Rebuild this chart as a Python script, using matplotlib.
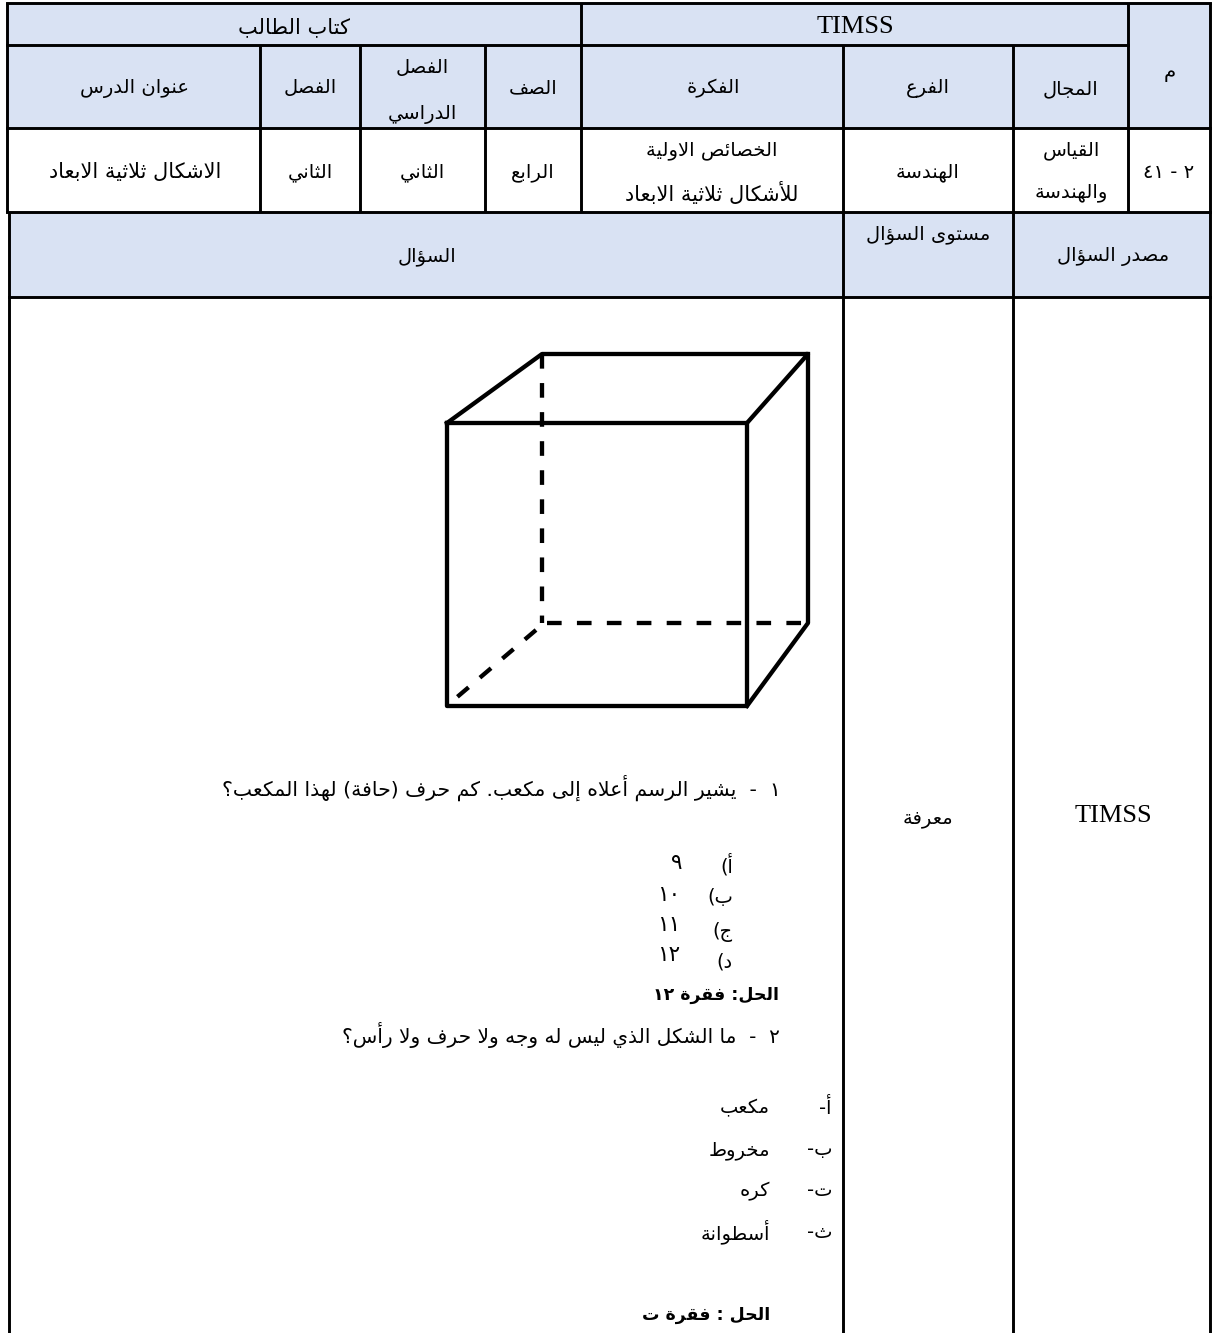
import matplotlib
matplotlib.use('Agg')
import matplotlib.pyplot as plt
from matplotlib.patches import Rectangle

# letters in the order of the presentation forms block, with the number of forms each has
AR_LETTERS = 'ءآأؤإئابةتثجحخدذرزسشصضطظعغفقكلمنهوىي'
AR_COUNTS = [1, 2, 2, 2, 2, 4, 2, 4, 2, 4, 4, 4, 4, 4, 2, 2, 2, 2, 4, 4, 4, 4, 4, 4, 4, 4, 4, 4, 4, 4, 4, 4, 4, 2, 2, 4]
LAM_ALEF = {'آ': 0xFEF5, 'أ': 0xFEF7, 'إ': 0xFEF9, 'ا': 0xFEFB}
MIRROR = {'(': ')', ')': '('}

AR_FORMS = {}
code = 0xFE80
for ch, n in zip(AR_LETTERS, AR_COUNTS):
    AR_FORMS[ch] = (code, n)
    code += n


def ar(s):
    """matplotlib has no shaping: pick presentation forms and lay out right to left"""
    # lam-alef ligatures are handled as a single letter
    items = []
    i = 0
    while i < len(s):
        if s[i] == 'ل' and i + 1 < len(s) and s[i + 1] in LAM_ALEF:
            items.append(('la', s[i + 1]))
            i += 2
        else:
            items.append(('c', s[i]))
            i += 1

    def joins_next(it):
        if it[0] == 'la':
            return False
        return it[1] in AR_FORMS and AR_FORMS[it[1]][1] == 4

    def joins_prev(it):
        if it[0] == 'la':
            return True
        return it[1] in AR_FORMS and AR_FORMS[it[1]][1] > 1

    out = []
    for k, it in enumerate(items):
        prev_on = k > 0 and joins_next(items[k - 1]) and joins_prev(it)
        next_on = k + 1 < len(items) and joins_next(it) and joins_prev(items[k + 1])
        if it[0] == 'la':
            out.append(chr(LAM_ALEF[it[1]] + (1 if prev_on else 0)))
        elif it[1] in AR_FORMS:
            base, n = AR_FORMS[it[1]]
            if n == 4:
                idx = {(False, False): 0, (True, False): 1, (False, True): 2, (True, True): 3}[(prev_on, next_on)]
            elif n == 2:
                idx = 1 if prev_on else 0
            else:
                idx = 0
            out.append(chr(base + idx))
        else:
            out.append(MIRROR.get(it[1], it[1]))
    out.reverse()

    # digit runs stay left to right
    res = []
    run = []
    for c in out:
        if '٠' <= c <= '٩':
            run.append(c)
        else:
            res.extend(run[::-1])
            run = []
            res.append(c)
    res.extend(run[::-1])
    return ''.join(res)


# table text
top_labels = ['كتاب الطالب', 'TIMSS']
head_labels = ['عنوان الدرس', 'الفصل', 'الفصل\nالدراسي', 'الصف', 'الفكرة', 'الفرع', 'المجال', 'م']
row_labels = ['الاشكال ثلاثية الابعاد', 'الثاني', 'الثاني', 'الرابع',
              'الخصائص الاولية\nللأشكال ثلاثية الابعاد', 'الهندسة', 'القياس\nوالهندسة', '٢ - ٤١']
third_labels = ['السؤال', 'مستوى السؤال', 'مصدر السؤال']
body_side = ['معرفة', 'TIMSS']
q1_text = '١  -  يشير الرسم أعلاه إلى مكعب. كم حرف (حافة) لهذا المكعب؟'
q1_keys = ['أ)', 'ب)', 'ج)', 'د)']
q1_vals = ['٩', '١٠', '١١', '١٢']
q1_answer = 'الحل: فقرة ١٢'
q2_text = '٢  -  ما الشكل الذي ليس له وجه ولا حرف ولا رأس؟'
q2_keys = ['أ-', 'ب-', 'ت-', 'ث-']
q2_vals = ['مكعب', 'مخروط', 'كره', 'أسطوانة']
q2_answer = 'الحل : فقرة ت'

W, H = 1214, 1333
BLUE = '#D9E2F3'
LW = 2.1
AR_SIZE = 14
LATIN = 'Liberation Serif'

col_x = [7, 260, 360, 485, 581, 843, 1013, 1128, 1210]
row_y = [3, 45, 128, 212, 297, 1333]
LEFT2 = 9
RIGHT = col_x[-1]

fig = plt.figure(figsize=(W / 100, H / 100), dpi=100)
ax = fig.add_axes([0, 0, 1, 1])
ax.set_xlim(0, W)
ax.set_ylim(H, 0)
ax.axis('off')


def put(x, y, s, ha='center', size=AR_SIZE, weight='normal'):
    ax.text(x, y, ar(s), ha=ha, va='center', fontsize=size, fontweight=weight,
            family='DejaVu Sans', color='black')


def hline(x0, x1, y):
    ax.plot([x0, x1], [y, y], color='k', lw=LW, solid_capstyle='projecting', zorder=3)


def vline(x, y0, y1):
    ax.plot([x, x], [y0, y1], color='k', lw=LW, solid_capstyle='butt', zorder=3)


# blue header bands
ax.add_patch(Rectangle((col_x[0], row_y[0]), RIGHT - col_x[0], row_y[2] - row_y[0], fc=BLUE, ec='none'))
ax.add_patch(Rectangle((LEFT2, row_y[3]), RIGHT - LEFT2, row_y[4] - row_y[3], fc=BLUE, ec='none'))

# grid lines
hline(col_x[0], RIGHT, row_y[0])
hline(col_x[0], col_x[7], row_y[1])
hline(col_x[0], RIGHT, row_y[2])
hline(col_x[0], RIGHT, row_y[3])
hline(LEFT2, RIGHT, row_y[4])
vline(col_x[0], row_y[0], row_y[3])
vline(LEFT2, row_y[3], H)
vline(RIGHT, row_y[0], H)
for x in col_x[1:4] + col_x[5:7]:
    vline(x, row_y[1], row_y[3])
vline(col_x[4], row_y[0], row_y[3])
vline(col_x[7], row_y[0], row_y[3])
vline(col_x[5], row_y[3], H)
vline(col_x[6], row_y[3], H)

# cube, solid edges then hidden ones
fx0, fx1, fy0, fy1 = 447, 747, 423, 706
bx0, bx1, by0, by1 = 542, 808, 354, 623
cube_lw = 3.1
for xs, ys in [([fx0, fx1, fx1, fx0, fx0], [fy0, fy0, fy1, fy1, fy0]),
               ([fx0, bx0, bx1, fx1], [fy0, by0, by0, fy0]),
               ([bx1, bx1, fx1], [by0, by1, fy1])]:
    ax.plot(xs, ys, color='k', lw=cube_lw, solid_joinstyle='round', zorder=4)
ax.plot([bx0, bx0], [by0, by1], color='k', lw=cube_lw, linestyle=(0, (3.4, 3.35)), zorder=4)
ax.plot([bx0 + 5, bx1], [by1, by1], color='k', lw=cube_lw, linestyle=(0, (3.4, 3.55)), zorder=4)
ax.plot([536, 456], [630, 698], color='k', lw=cube_lw, linestyle=(0, (3.4, 3.45)), zorder=4)

# header text
put(294, 27, top_labels[0], size=15)
ax.text(855, 27, top_labels[1], ha='center', va='center', fontsize=19, family=LATIN)

head_x = [134, 310, 422, 533, 713, 928, 1071, 1170]
head_y = [88, 88, 90, 88, 88, 88, 89, 72]
for x, y, s in zip(head_x, head_y, head_labels):
    if '\n' in s:
        a, b = s.split('\n')
        put(x, 68, a)
        put(x, 115, b)
    else:
        put(x, y, s)

row_x = [135, 310, 422, 533, 712, 928, 1071, 1169]
for x, s in zip(row_x, row_labels):
    if '\n' in s:
        a, b = s.split('\n')
        put(x, 151, a)
        put(x, 193, b, size=15 if x == 712 else AR_SIZE)
    else:
        put(x, 172, s, size=15 if x == 135 else AR_SIZE)

put(427, 256, third_labels[0])
put(928, 235, third_labels[1])
put(1113, 257, third_labels[2])

put(928, 818, body_side[0])
ax.text(1113, 816, body_side[1], ha='center', va='center', fontsize=19, family=LATIN)

# first question
put(781, 788, q1_text, ha='right', size=14.7)
key_y = [865, 898, 932, 962]
val_y = [863, 895, 925, 955]
val_x = [682, 680, 680, 680]
for k, v, ky, vy, vx in zip(q1_keys, q1_vals, key_y, val_y, val_x):
    put(733, ky, k, ha='right')
    put(vx, vy, v, ha='right', size=15.5)
put(779, 995, q1_answer, ha='right', size=12.5, weight='bold')

# second question
put(780, 1035, q2_text, ha='right', size=14.5)
opt_y = [1108, 1150, 1191, 1232]
for k, v, y in zip(q2_keys, q2_vals, opt_y):
    put(832, y, k, ha='right')
    put(770, y, v, ha='right')
put(770, 1315, q2_answer, ha='right', size=12.5, weight='bold')

fig.savefig('out.png', dpi=100)
